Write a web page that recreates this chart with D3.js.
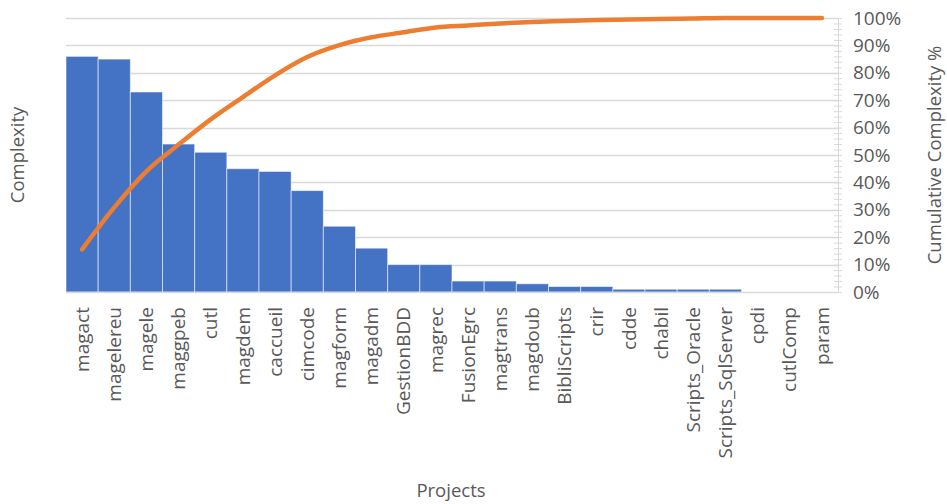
<!DOCTYPE html>
<html>
<head>
<meta charset="utf-8">
<script src="https://cdn.jsdelivr.net/npm/d3@7"></script>
<style>
  html, body { margin: 0; padding: 0; background: #ffffff; }
  svg { display: block; }
  text { font-family: "Open Sans", "Liberation Sans", sans-serif; fill: #595959; }
</style>
</head>
<body>
<svg id="chart" width="947" height="504"></svg>
<script>
// ---- data ----
const projects = ["magact","magelereu","magele","maggpeb","cutl","magdem","caccueil","cimcode",
  "magform","magadm","GestionBDD","magrec","FusionEgrc","magtrans","magdoub","BibliScripts",
  "crir","cdde","chabil","Scripts_Oracle","Scripts_SqlServer","cpdi","cutlComp","param"];
const complexity = [86, 85, 73, 54, 51, 45, 44, 37, 24, 16, 10, 10, 4, 4, 3, 2, 2, 1, 1, 1, 1, 0, 0, 0];
const percentTicks = [0, 0.1, 0.2, 0.3, 0.4, 0.5, 0.6, 0.7, 0.8, 0.9, 1.0];
const axisTitles = { x: "Projects", yLeft: "Complexity", yRight: "Cumulative Complexity %" };

// cumulative share (Pareto line) derived from the bar values
const total = d3.sum(complexity);
const cumulative = Array.from(d3.cumsum(complexity), v => v / total);

// ---- layout ----
const svg = d3.select("#chart");
const pLeft = 66, pRight = 838, pTop = 18, pBottom = 292;

const x = d3.scaleBand().domain(projects).range([pLeft, pRight]).paddingInner(0).paddingOuter(0);
const yL = d3.scaleLinear().domain([0, 100]).range([pBottom, pTop]);
const yR = d3.scaleLinear().domain([0, 1]).range([pBottom, pTop]);

// gridlines
svg.append("g").selectAll("line").data(percentTicks.filter(d => d > 0)).join("line")
  .attr("x1", pLeft).attr("x2", pRight)
  .attr("y1", d => Math.round(yR(d)) + 0.5).attr("y2", d => Math.round(yR(d)) + 0.5)
  .attr("stroke", "#D9D9D9").attr("stroke-width", 1.3);

// bars
svg.append("g").selectAll("rect").data(projects).join("rect")
  .attr("x", d => x(d))
  .attr("width", x.bandwidth())
  .attr("y", (d, i) => yL(complexity[i]))
  .attr("height", (d, i) => pBottom - yL(complexity[i]))
  .attr("fill", "#4472C4")
  .attr("stroke", "rgba(255,255,255,0.55)")
  .attr("stroke-width", 1);

// baseline
svg.append("line")
  .attr("x1", pLeft).attr("x2", pRight)
  .attr("y1", pBottom + 0.5).attr("y2", pBottom + 0.5)
  .attr("stroke", "#D9D9D9").attr("stroke-width", 1.5);

// right axis with minor ticks
const rAxis = d3.axisRight(yR).tickValues(d3.range(0, 1.0001, 0.02)).tickSize(4).tickFormat("");
const rg = svg.append("g").attr("transform", `translate(${pRight},0)`).call(rAxis);
rg.select(".domain").attr("stroke", "#D9D9D9").attr("d", `M0.5,${pTop}V${pBottom}`);
rg.selectAll(".tick line").attr("stroke", "#D9D9D9").attr("x1", -4).attr("x2", 4);

// right tick labels
const rLab = d3.axisRight(yR).tickValues(percentTicks).tickSize(0).tickPadding(15)
  .tickFormat(d3.format(".0%"));
const rl = svg.append("g").attr("transform", `translate(${pRight},0)`).call(rLab);
rl.select(".domain").remove();
rl.selectAll("text").attr("font-size", 19).attr("fill", "#595959")
  .attr("font-family", "'Open Sans', sans-serif");

// Pareto line
const line = d3.line()
  .x((d, i) => x(projects[i]) + x.bandwidth() / 2)
  .y(d => yR(d))
  .curve(d3.curveMonotoneX);
svg.append("path").datum(cumulative)
  .attr("d", line)
  .attr("fill", "none")
  .attr("stroke", "#ED7D31")
  .attr("stroke-width", 4.5)
  .attr("stroke-linecap", "round")
  .attr("stroke-linejoin", "round");

// x labels (rotated)
const bAxis = d3.axisBottom(x).tickSize(0).tickPadding(0);
const bg = svg.append("g").attr("transform", `translate(0,${pBottom})`).call(bAxis);
bg.select(".domain").remove();
bg.selectAll("text")
  .attr("font-size", 19).attr("fill", "#595959")
  .attr("font-family", "'Open Sans', sans-serif")
  .attr("transform", "rotate(-90)")
  .attr("text-anchor", "end")
  .attr("x", -15).attr("y", 0).attr("dy", "0.35em");

// axis titles
svg.append("text").attr("x", 451).attr("y", 497).attr("text-anchor", "middle")
  .attr("font-size", 18.5).text(axisTitles.x);
svg.append("text").attr("transform", "translate(24,155) rotate(-90)").attr("text-anchor", "middle")
  .attr("font-size", 18.5).text(axisTitles.yLeft);
svg.append("text").attr("transform", "translate(941,155) rotate(-90)").attr("text-anchor", "middle")
  .attr("font-size", 18.5).text(axisTitles.yRight);
</script>
</body>
</html>
